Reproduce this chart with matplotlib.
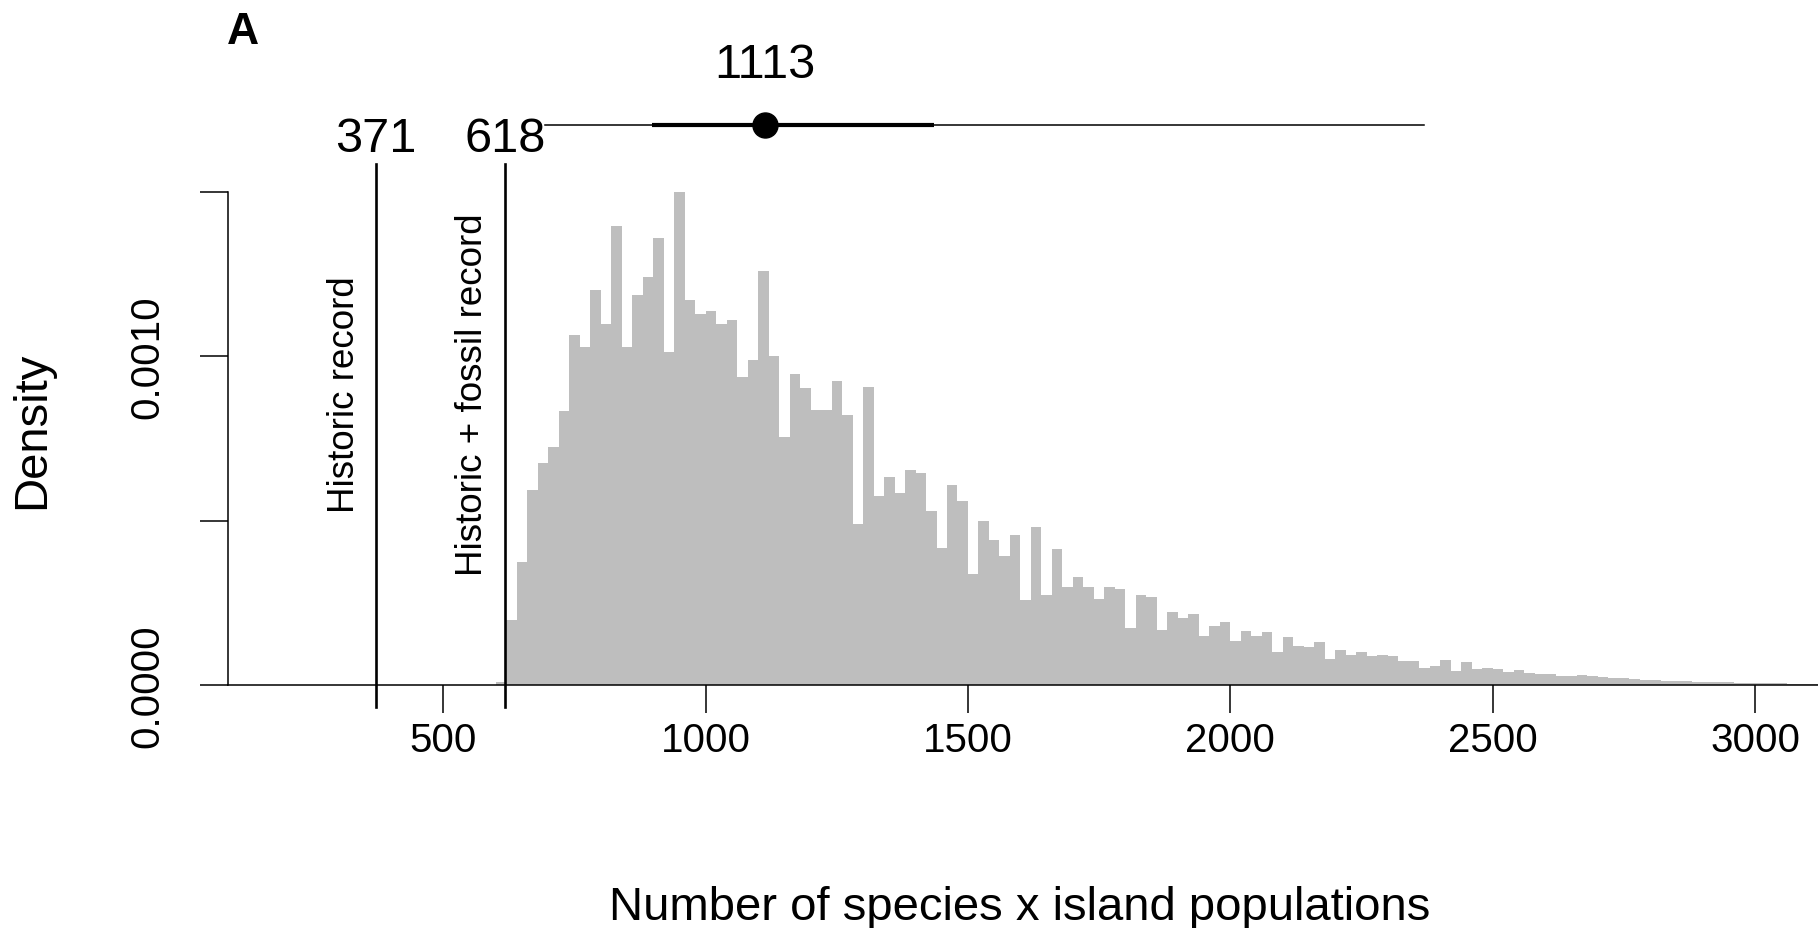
import numpy as np
import matplotlib.pyplot as plt

plt.rcParams['font.family'] = ['Liberation Sans', 'DejaVu Sans']

# histogram of simulated totals (density, bins of 20 starting at 600)
bin_start = 600
bin_width = 20
density = [
    0.000010,
    # 620 - 1520
    0.000198, 0.000374, 0.000594, 0.000675, 0.000725, 0.000834, 0.001064, 0.001028,
    0.001202, 0.001099, 0.001397, 0.001028, 0.001185, 0.001240, 0.001359, 0.001013,
    0.001513, 0.001170, 0.001129, 0.001137, 0.001099, 0.001109, 0.000937, 0.000988,
    0.001259, 0.001001, 0.000754, 0.000947, 0.000902, 0.000836, 0.000836, 0.000924,
    0.000821, 0.000491, 0.000907, 0.000576, 0.000632, 0.000584, 0.000655, 0.000646,
    0.000528, 0.000417, 0.000609, 0.000559, 0.000338, 0.000498,
    # 1540 - 2480
    0.000440, 0.000392, 0.000456, 0.000259, 0.000480, 0.000274, 0.000415, 0.000298,
    0.000329, 0.000298, 0.000261, 0.000299, 0.000291, 0.000172, 0.000273, 0.000268,
    0.000168, 0.000223, 0.000203, 0.000217, 0.000150, 0.000180, 0.000192, 0.000134,
    0.000163, 0.000150, 0.000162, 0.000101, 0.000146, 0.000119, 0.000117, 0.000131,
    0.000079, 0.000106, 0.000091, 0.000099, 0.000089, 0.000092, 0.000089, 0.000074,
    0.000072, 0.000051, 0.000059, 0.000076, 0.000043, 0.000069, 0.000048, 0.000052,
    # 2500 - 3100
    0.000048, 0.000040, 0.000045, 0.000036, 0.000034, 0.000033, 0.000028, 0.000026,
    0.000030, 0.000028, 0.000024, 0.000022, 0.000020, 0.000018, 0.000016, 0.000015,
    0.000013, 0.000012, 0.000011, 0.000010, 0.000009, 0.000008, 0.000008, 0.000007,
    0.000006, 0.000006, 0.000005, 0.000005, 0.000004, 0.000004, 0.000003,
]
edges = bin_start + bin_width * np.arange(len(density) + 1)

record_values = [371, 618]
record_labels = ['Historic record', 'Historic + fossil record']
estimate = 1113
inner_ci = [898, 1435]
outer_ci = [694, 2369]

xticks = [500, 1000, 1500, 2000, 2500, 3000]
yticks = [0, 0.0005, 0.0010, 0.0015]
ytick_labels = ['0.0000', '', '0.0010', '']

W, H = 1818, 929
fig = plt.figure(figsize=(W / 100, H / 100), dpi=100)
ax_l, ax_r, ax_b, ax_t = 227.7, 1818, 686, 192.7
ax = fig.add_axes([ax_l / W, 1 - ax_b / H, (ax_r - ax_l) / W, (ax_b - ax_t) / H])
ax.set_xlim(89.1, 3120)
ax.set_ylim(0, 0.0015)


def ypix(p):
    # figure pixel row -> density units
    return (ax_b - p) / (ax_b - ax_t) * 0.0015


ax.stairs(density, edges, fill=True, color='#bebebe', linewidth=0, zorder=1)

for s in ['top', 'right']:
    ax.spines[s].set_visible(False)
for s in ['left', 'bottom']:
    ax.spines[s].set_linewidth(1.1)

ax.set_xticks(xticks)
ax.set_xticklabels([str(t) for t in xticks])
ax.set_yticks(yticks)
ax.set_yticklabels(ytick_labels, rotation=90, va='center')
ax.tick_params(direction='out', length=20, width=1.1, labelsize=29)
ax.tick_params(axis='x', pad=6)
ax.tick_params(axis='y', pad=24)

# record lines and labels
for v, lab, dx in zip(record_values, record_labels, [-60, -63]):
    ax.plot([v, v], [ypix(708), ypix(165)], color='black', lw=1.9, clip_on=False, zorder=3)
    ax.text(v, ypix(152), str(v), ha='center', va='baseline', fontsize=35)
    ax.text(v + dx, ypix(395), lab, rotation=90, ha='center', va='center', fontsize=26.5)

# estimate with intervals
ax.plot(outer_ci, [ypix(126)] * 2, color='black', lw=1.1, clip_on=False)
ax.plot(inner_ci, [ypix(126)] * 2, color='black', lw=3.0, clip_on=False, solid_capstyle='butt')
ax.plot([estimate], [ypix(126)], 'o', color='black', ms=18, clip_on=False)
ax.text(estimate, ypix(78), str(estimate), ha='center', va='baseline', fontsize=35)

fig.text(32 / W, 1 - 430 / H, 'Density', rotation=90, ha='center', va='center', fontsize=34)
fig.text(1020 / W, 1 - 920 / H, 'Number of species x island populations',
         ha='center', va='baseline', fontsize=34)
fig.text(243 / W, 1 - 44 / H, 'A', ha='center', va='baseline', fontsize=32, fontweight='bold')

fig.savefig('out.png', dpi=100)
